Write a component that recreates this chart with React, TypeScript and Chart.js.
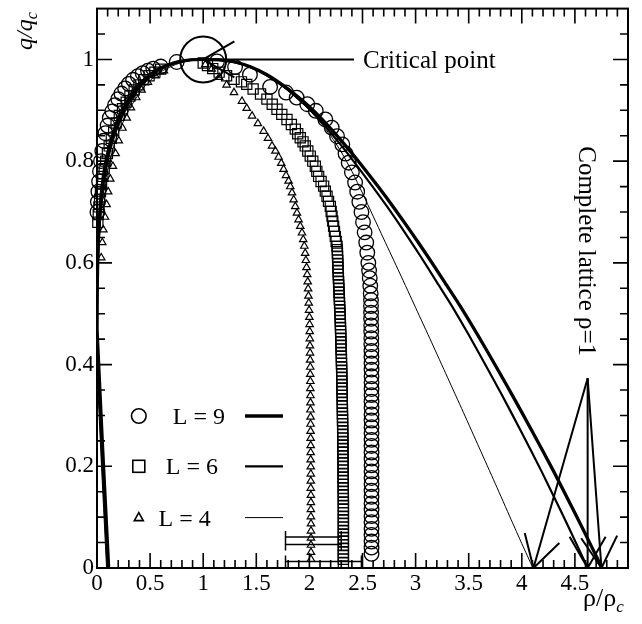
import React, { useEffect, useRef } from 'react';
import { Chart, registerables } from 'chart.js';

Chart.register(...registerables);

const SERIF = '"Liberation Serif", "DejaVu Serif", "Times New Roman", serif';

// ---- axes ----
const xRange = [0, 5];
const yRange = [0, 1.1];
const xTicks = [0, 0.5, 1, 1.5, 2, 2.5, 3, 3.5, 4, 4.5];
const yTicks = [0, 0.2, 0.4, 0.6, 0.8, 1];

// ---- legend ----
const legendLabels = ['L = 9', 'L = 6', 'L = 4'];

// ---- annotations ----
const criticalPoint: [number, number] = [1, 1];
const criticalLineEnd = 2.42;
const criticalText = 'Critical point';
const criticalTextRho = 2.505;
const latticeText = 'Complete lattice \u03c1=1';
const latticeTextPos: [number, number] = [4.534, 0.623];
const latticeApex: [number, number] = [4.62, 0.373];
const latticeTargets = [4.11, 4.62, 4.75];

// horizontal error bars near the bottom
const errQ = [0.061, 0.046, 0.013];
const errLow = [1.775, 1.775, 1.775];
const errHigh = [2.3, 2.3, 2.49];

// ---- L = 9 markers (circles) ----
const l9Markers: [number, number][] = [
  [0.004, 0.70], [0.008, 0.72], [0.013, 0.74], [0.02, 0.76], [0.028, 0.78], [0.038, 0.80],
  [0.05, 0.82], [0.064, 0.84], [0.08, 0.855], [0.10, 0.87], [0.12, 0.885], [0.145, 0.898],
  [0.17, 0.91], [0.20, 0.922], [0.23, 0.933], [0.265, 0.943], [0.30, 0.952], [0.34, 0.96],
  [0.385, 0.967], [0.43, 0.973], [0.48, 0.978], [0.53, 0.982], [0.60, 0.986], [0.75, 0.995],
  [1.13, 0.996], [1.30, 0.985], [1.44, 0.970], [1.63, 0.946], [1.78, 0.935], [1.88, 0.925],
  [1.98, 0.912], [2.06, 0.899], [2.15, 0.882], [2.21, 0.866], [2.26, 0.849], [2.31, 0.833],
  [2.34, 0.815], [2.37, 0.797], [2.40, 0.778], [2.43, 0.758], [2.45, 0.74], [2.47, 0.72],
  [2.49, 0.70], [2.505, 0.68], [2.52, 0.66], [2.535, 0.64], [2.545, 0.62], [2.555, 0.60],
  [2.562, 0.585], [2.568, 0.57], [2.573, 0.555], [2.577, 0.54],
  [2.58, 0.527], [2.58, 0.515], [2.581, 0.502], [2.581, 0.49], [2.582, 0.477], [2.582, 0.465],
  [2.583, 0.452], [2.583, 0.44], [2.584, 0.427], [2.584, 0.415], [2.585, 0.402], [2.585, 0.39],
  [2.585, 0.377], [2.585, 0.365], [2.585, 0.352], [2.585, 0.34], [2.585, 0.327], [2.585, 0.315],
  [2.585, 0.302], [2.585, 0.29], [2.585, 0.277], [2.585, 0.265], [2.585, 0.252], [2.585, 0.24],
  [2.585, 0.227], [2.585, 0.215], [2.585, 0.202], [2.585, 0.19], [2.585, 0.177], [2.585, 0.165],
  [2.585, 0.152], [2.585, 0.14], [2.585, 0.127], [2.585, 0.115], [2.585, 0.102], [2.585, 0.09],
  [2.585, 0.077], [2.585, 0.065], [2.585, 0.052], [2.585, 0.04], [2.585, 0.028],
];

// ---- L = 6 markers (squares) ----
const l6Markers: [number, number][] = [
  [0.008, 0.68], [0.012, 0.695], [0.018, 0.71], [0.025, 0.725], [0.033, 0.74], [0.043, 0.755],
  [0.055, 0.77], [0.068, 0.785], [0.082, 0.80], [0.098, 0.815], [0.115, 0.83], [0.135, 0.845],
  [0.157, 0.86], [0.18, 0.875], [0.21, 0.89], [0.24, 0.903], [0.275, 0.916], [0.31, 0.928],
  [0.35, 0.94], [0.395, 0.95], [0.44, 0.96], [0.49, 0.968], [0.545, 0.975], [0.60, 0.981],
  [1.0, 0.993], [1.04, 0.988], [1.09, 0.982], [1.15, 0.975], [1.22, 0.968], [1.29, 0.961],
  [1.36, 0.956], [1.41, 0.951], [1.47, 0.942], [1.54, 0.932], [1.60, 0.922], [1.65, 0.912],
  [1.695, 0.902], [1.74, 0.892], [1.789, 0.882], [1.83, 0.872], [1.867, 0.863], [1.89, 0.854],
  [1.914, 0.846], [1.94, 0.838], [1.961, 0.83], [1.985, 0.82], [2.008, 0.81], [2.032, 0.80],
  [2.056, 0.79], [2.07, 0.78], [2.087, 0.77], [2.11, 0.76], [2.134, 0.751], [2.15, 0.741],
  [2.166, 0.731], [2.18, 0.721], [2.197, 0.711], [2.205, 0.701], [2.213, 0.692], [2.22, 0.682],
  [2.228, 0.672], [2.236, 0.662], [2.244, 0.652], [2.252, 0.642], [2.26, 0.633],
  [2.263, 0.626], [2.264, 0.619], [2.265, 0.612], [2.267, 0.605], [2.268, 0.598], [2.269, 0.591],
  [2.271, 0.584], [2.272, 0.577], [2.273, 0.570], [2.275, 0.563], [2.276, 0.556], [2.278, 0.549],
  [2.279, 0.542], [2.281, 0.535], [2.282, 0.528], [2.284, 0.521], [2.285, 0.514], [2.287, 0.507],
  [2.288, 0.500], [2.29, 0.493], [2.291, 0.486], [2.292, 0.479], [2.293, 0.472], [2.294, 0.465],
  [2.295, 0.458], [2.296, 0.451], [2.297, 0.444], [2.298, 0.437], [2.299, 0.430], [2.30, 0.423],
  [2.301, 0.416], [2.302, 0.409], [2.302, 0.402], [2.303, 0.395], [2.304, 0.388], [2.305, 0.381],
  [2.305, 0.374], [2.306, 0.367], [2.307, 0.360], [2.307, 0.353], [2.308, 0.346], [2.309, 0.339],
  [2.309, 0.332], [2.31, 0.325], [2.31, 0.318], [2.311, 0.311], [2.311, 0.304], [2.312, 0.297],
  [2.312, 0.290], [2.313, 0.283], [2.313, 0.276], [2.314, 0.269], [2.314, 0.262], [2.315, 0.255],
  [2.315, 0.248], [2.315, 0.241], [2.316, 0.234], [2.316, 0.227], [2.316, 0.220], [2.317, 0.213],
  [2.317, 0.206], [2.317, 0.199], [2.318, 0.192], [2.318, 0.185], [2.318, 0.178], [2.318, 0.171],
  [2.319, 0.164], [2.319, 0.157], [2.319, 0.150], [2.319, 0.143], [2.32, 0.136], [2.32, 0.129],
  [2.32, 0.122], [2.32, 0.115], [2.32, 0.108], [2.32, 0.101], [2.32, 0.094], [2.32, 0.087],
  [2.32, 0.080], [2.32, 0.073], [2.32, 0.066], [2.32, 0.059], [2.32, 0.052], [2.32, 0.045],
  [2.32, 0.038], [2.32, 0.031], [2.32, 0.024], [2.32, 0.017], [2.32, 0.010],
];

// ---- L = 4 markers (triangles) ----
const l4Markers: [number, number][] = [
  [0.04, 0.61], [0.05, 0.64], [0.06, 0.665], [0.075, 0.69], [0.09, 0.715], [0.105, 0.74],
  [0.125, 0.765], [0.15, 0.79], [0.175, 0.815], [0.205, 0.84], [0.24, 0.865], [0.28, 0.885],
  [0.32, 0.905], [0.37, 0.925], [0.42, 0.94], [0.48, 0.955], [0.55, 0.968], [0.63, 0.978],
  [1.02, 0.99], [1.08, 0.981], [1.15, 0.965], [1.22, 0.95], [1.29, 0.935], [1.365, 0.918],
  [1.41, 0.904], [1.46, 0.889], [1.515, 0.874], [1.569, 0.859], [1.61, 0.845], [1.648, 0.83],
  [1.68, 0.82], [1.71, 0.808], [1.735, 0.796], [1.757, 0.784], [1.78, 0.772], [1.804, 0.761],
  [1.82, 0.75], [1.836, 0.738], [1.852, 0.724], [1.867, 0.711], [1.883, 0.698], [1.898, 0.685],
  [1.914, 0.672], [1.93, 0.659], [1.942, 0.646], [1.952, 0.633], [1.96, 0.619], [1.967, 0.605],
  [1.973, 0.591], [1.979, 0.577], [1.984, 0.563], [1.988, 0.549], [1.991, 0.535], [1.994, 0.521],
  [1.997, 0.507], [2.0, 0.493], [2.002, 0.479], [2.003, 0.465], [2.004, 0.451], [2.005, 0.437],
  [2.006, 0.423], [2.007, 0.409], [2.008, 0.395], [2.008, 0.381], [2.009, 0.367], [2.009, 0.353],
  [2.01, 0.339], [2.01, 0.325], [2.01, 0.311], [2.011, 0.297], [2.011, 0.283], [2.011, 0.269],
  [2.012, 0.255], [2.012, 0.241], [2.012, 0.227], [2.012, 0.213], [2.013, 0.199], [2.013, 0.185],
  [2.013, 0.171], [2.013, 0.157], [2.014, 0.143], [2.014, 0.129], [2.014, 0.115], [2.014, 0.101],
  [2.015, 0.087], [2.015, 0.073], [2.015, 0.059], [2.015, 0.045], [2.015, 0.031], [2.015, 0.017],
];

// ---- fitted curves ----
const l9Curve: [number, number][] = [
  [0.11, 0], [0.0, 0.47], [0.003, 0.56], [0.012, 0.64], [0.03, 0.71], [0.06, 0.77], [0.1, 0.815],
  [0.17, 0.865], [0.28, 0.915], [0.41, 0.953], [0.56, 0.979], [0.72, 0.993], [0.88, 0.999], [1, 1],
  [1.15, 0.999], [1.3, 0.995], [1.45, 0.985], [1.6, 0.97], [1.76, 0.948], [1.9, 0.925], [2.0, 0.907],
  [2.12, 0.882], [2.23, 0.857], [2.35, 0.828], [2.48, 0.795], [2.64, 0.752], [2.79, 0.71], [2.95, 0.663],
  [3.11, 0.614], [3.27, 0.563], [3.42, 0.515], [3.58, 0.46], [3.73, 0.406], [3.91, 0.34], [4.1, 0.268],
  [4.3, 0.19], [4.5, 0.108], [4.65, 0.045], [4.755, 0],
];
const l6Curve: [number, number][] = [
  [0.10, 0], [0.0, 0.44], [0.004, 0.55], [0.014, 0.63], [0.033, 0.70], [0.065, 0.76], [0.11, 0.81],
  [0.18, 0.86], [0.29, 0.91], [0.42, 0.95], [0.57, 0.977], [0.73, 0.992], [0.88, 0.999], [1, 1],
  [1.15, 0.999], [1.299, 0.995], [1.447, 0.985], [1.593, 0.97], [1.748, 0.948], [1.883, 0.925],
  [1.979, 0.907], [2.093, 0.882], [2.197, 0.857], [2.311, 0.828], [2.433, 0.795], [2.588, 0.752],
  [2.734, 0.71], [2.888, 0.663], [3.043, 0.614], [3.197, 0.563], [3.342, 0.515], [3.496, 0.46],
  [3.64, 0.406], [3.813, 0.34], [3.995, 0.268], [4.186, 0.19], [4.377, 0.108], [4.52, 0.045], [4.62, 0],
];
const l4Curve: [number, number][] = [
  [0.09, 0], [0.0, 0.40], [0.005, 0.53], [0.016, 0.62], [0.036, 0.69], [0.07, 0.75], [0.12, 0.80],
  [0.19, 0.85], [0.3, 0.9], [0.43, 0.943], [0.58, 0.973], [0.74, 0.99], [0.88, 0.998], [1, 1],
  [1.15, 0.998], [1.3, 0.993], [1.45, 0.983], [1.6, 0.967], [1.76, 0.945], [1.9, 0.92], [2.0, 0.9],
  [2.1, 0.877], [2.2, 0.85], [2.3, 0.818], [2.4, 0.78], [2.5, 0.737], [2.6, 0.692], [2.7, 0.647],
  [2.85, 0.58], [3.0, 0.512], [3.15, 0.444], [3.3, 0.375], [3.45, 0.306], [3.6, 0.236], [3.75, 0.166],
  [3.9, 0.095], [4.0, 0.048], [4.105, 0],
];

const toXY = (arr: [number, number][]) => arr.map(([x, y]) => ({ x, y }));

function drawArrow(ctx: CanvasRenderingContext2D, x1: number, y1: number, x2: number, y2: number) {
  ctx.beginPath();
  ctx.moveTo(x1, y1);
  ctx.lineTo(x2, y2);
  const ang = Math.atan2(y1 - y2, x1 - x2);
  const len = 36;
  for (const s of [-1, 1]) {
    const a2 = ang + (s * Math.PI) / 6;
    ctx.moveTo(x2, y2);
    ctx.lineTo(x2 + len * Math.cos(a2), y2 + len * Math.sin(a2));
  }
  ctx.stroke();
}

const annotationPlugin = {
  id: 'annotations',
  afterDatasetsDraw(chart: any) {
    const { ctx, chartArea: a, scales } = chart;
    const X = (v: number) => scales.x.getPixelForValue(v);
    const Y = (v: number) => scales.y.getPixelForValue(v);
    ctx.save();
    ctx.strokeStyle = '#000';
    ctx.fillStyle = '#000';
    ctx.lineCap = 'butt';

    // frame
    ctx.lineWidth = 2;
    ctx.strokeRect(a.left, a.top, a.right - a.left, a.bottom - a.top);

    // inward ticks
    ctx.lineWidth = 1.6;
    ctx.beginPath();
    for (let i = 1; i < 50; i++) {
      const px = X(i / 10);
      const len = i % 5 === 0 ? 15 : 8;
      ctx.moveTo(px, a.bottom);
      ctx.lineTo(px, a.bottom - len);
      ctx.moveTo(px, a.top);
      ctx.lineTo(px, a.top + len);
    }
    for (let i = 1; i <= 22; i++) {
      const py = Y(i * 0.05);
      if (py < a.top + 1) continue;
      const len = i % 4 === 0 ? 15 : 8;
      ctx.moveTo(a.left, py);
      ctx.lineTo(a.left + len, py);
      ctx.moveTo(a.right, py);
      ctx.lineTo(a.right - len, py);
    }
    ctx.stroke();

    // error bars
    ctx.lineWidth = 1.5;
    ctx.beginPath();
    errQ.forEach((q, i) => {
      const py = Y(q);
      const x1 = X(errLow[i]);
      const x2 = X(errHigh[i]);
      ctx.moveTo(x1, py);
      ctx.lineTo(x2, py);
      ctx.moveTo(x1, py - 6);
      ctx.lineTo(x1, py + 6);
      ctx.moveTo(x2, py - 6);
      ctx.lineTo(x2, py + 6);
    });
    ctx.stroke();

    // critical point circle + arrow
    ctx.lineWidth = 2;
    ctx.beginPath();
    ctx.arc(X(criticalPoint[0]), Y(criticalPoint[1]), 23, 0, Math.PI * 2);
    ctx.stroke();
    drawArrow(ctx, X(criticalLineEnd), Y(criticalPoint[1]), X(criticalPoint[0]), Y(criticalPoint[1]));
    ctx.font = `25px ${SERIF}`;
    ctx.textAlign = 'left';
    ctx.textBaseline = 'alphabetic';
    ctx.fillText(criticalText, X(criticalTextRho), Y(criticalPoint[1]) + 8.5);

    // complete lattice arrows
    ctx.lineWidth = 2;
    latticeTargets.forEach((t) => {
      drawArrow(ctx, X(latticeApex[0]), Y(latticeApex[1]), X(t), Y(0));
    });
    ctx.save();
    ctx.translate(X(latticeTextPos[0]), Y(latticeTextPos[1]));
    ctx.rotate(Math.PI / 2);
    ctx.font = `25px ${SERIF}`;
    ctx.textAlign = 'center';
    ctx.textBaseline = 'alphabetic';
    ctx.fillText(latticeText, 0, 0);
    ctx.restore();

    // legend
    const rows = [a.bottom - 152, a.bottom - 101.7, a.bottom - 50.4];
    const symX = a.left + 41.8;
    const textRight = [a.left + 128, a.left + 121, a.left + 113.7];
    const lineX1 = a.left + 148;
    const lineX2 = a.left + 186;
    const lineW = [3.3, 2.2, 1.0];
    ctx.lineWidth = 1.6;
    ctx.beginPath();
    ctx.arc(symX, rows[0], 7.3, 0, Math.PI * 2);
    ctx.stroke();
    ctx.strokeRect(symX - 6, rows[1] - 6, 12, 12);
    ctx.beginPath();
    ctx.moveTo(symX, rows[2] - 5);
    ctx.lineTo(symX + 4.5, rows[2] + 3);
    ctx.lineTo(symX - 4.5, rows[2] + 3);
    ctx.closePath();
    ctx.stroke();
    ctx.font = `24px ${SERIF}`;
    ctx.textAlign = 'right';
    ctx.textBaseline = 'alphabetic';
    legendLabels.forEach((lab, i) => {
      ctx.fillText(lab, textRight[i], rows[i] + 8);
      ctx.lineWidth = lineW[i];
      ctx.beginPath();
      ctx.moveTo(lineX1, rows[i]);
      ctx.lineTo(lineX2, rows[i]);
      ctx.stroke();
    });

    // y-axis title q/q_c (rotated)
    ctx.save();
    ctx.translate(31.5, 50);
    ctx.rotate(-Math.PI / 2);
    ctx.textAlign = 'left';
    ctx.font = `italic 24px ${SERIF}`;
    ctx.fillText('q/q', 0, 0);
    const w1 = ctx.measureText('q/q').width;
    ctx.font = `italic 16px ${SERIF}`;
    ctx.fillText('c', w1, 5);
    ctx.restore();

    // x-axis title rho/rho_c
    ctx.textAlign = 'left';
    ctx.font = `26px ${SERIF}`;
    ctx.fillText('\u03c1/\u03c1', 583, 606);
    const w2 = ctx.measureText('\u03c1/\u03c1').width;
    ctx.font = `italic 17px ${SERIF}`;
    ctx.fillText('c', 583 + w2, 612);

    ctx.restore();
  },
};

export default function App() {
  const canvasRef = useRef<HTMLCanvasElement | null>(null);

  useEffect(() => {
    const canvas = canvasRef.current;
    if (!canvas) return;
    const tickFont = { family: SERIF, size: 23 };
    const markerBase = {
      borderColor: '#000',
      backgroundColor: 'rgba(0,0,0,0)',
      showLine: false,
      clip: 10,
    };
    const lineBase = {
      showLine: true,
      pointRadius: 0,
      borderColor: '#000',
      tension: 0.25,
      fill: false,
    };
    const chart = new Chart(canvas, {
      type: 'scatter',
      data: {
        datasets: [
          { ...markerBase, label: 'L = 9 data', data: toXY(l9Markers), pointStyle: 'circle', pointRadius: 7.3, pointBorderWidth: 1.3 },
          { ...markerBase, label: 'L = 6 data', data: toXY(l6Markers), pointStyle: 'rect', pointRadius: 7.2, pointBorderWidth: 1.2 },
          { ...markerBase, label: 'L = 4 data', data: toXY(l4Markers), pointStyle: 'triangle', pointRadius: 4.3, pointBorderWidth: 1.2 },
          { ...lineBase, label: 'L = 9', data: toXY(l9Curve), borderWidth: 3.3 },
          { ...lineBase, label: 'L = 6', data: toXY(l6Curve), borderWidth: 2.2 },
          { ...lineBase, label: 'L = 4', data: toXY(l4Curve), borderWidth: 1.0 },
        ],
      },
      options: {
        responsive: false,
        animation: false,
        events: [],
        layout: { padding: { left: 0, right: 14, top: 8, bottom: 0 } },
        plugins: { legend: { display: false }, tooltip: { enabled: false } },
        scales: {
          x: {
            type: 'linear',
            min: xRange[0],
            max: xRange[1],
            afterBuildTicks: (s: any) => {
              s.ticks = xTicks.map((v) => ({ value: v }));
            },
            afterFit: (s: any) => {
              s.height = 56;
              s.paddingLeft = 0;
              s.paddingRight = 0;
            },
            grid: { display: false, drawTicks: false },
            border: { display: false },
            ticks: {
              font: tickFont,
              color: '#000',
              padding: 2,
              maxRotation: 0,
              autoSkip: false,
              callback: (v: any) => String(v),
            },
          },
          y: {
            type: 'linear',
            min: yRange[0],
            max: yRange[1],
            afterBuildTicks: (s: any) => {
              s.ticks = yTicks.map((v) => ({ value: v }));
            },
            afterFit: (s: any) => {
              s.width = 97;
              s.paddingTop = 0;
              s.paddingBottom = 0;
            },
            grid: { display: false, drawTicks: false },
            border: { display: false },
            ticks: {
              font: tickFont,
              color: '#000',
              padding: 3,
              autoSkip: false,
              callback: (v: any) => String(v),
            },
          },
        },
      },
      plugins: [annotationPlugin],
    } as any);
    return () => chart.destroy();
  }, []);

  return (
    <div style={{ position: 'absolute', left: 0, top: 0, width: 642, height: 624, background: '#fff' }}>
      <canvas ref={canvasRef} width={642} height={624} style={{ display: 'block' }} />
    </div>
  );
}
